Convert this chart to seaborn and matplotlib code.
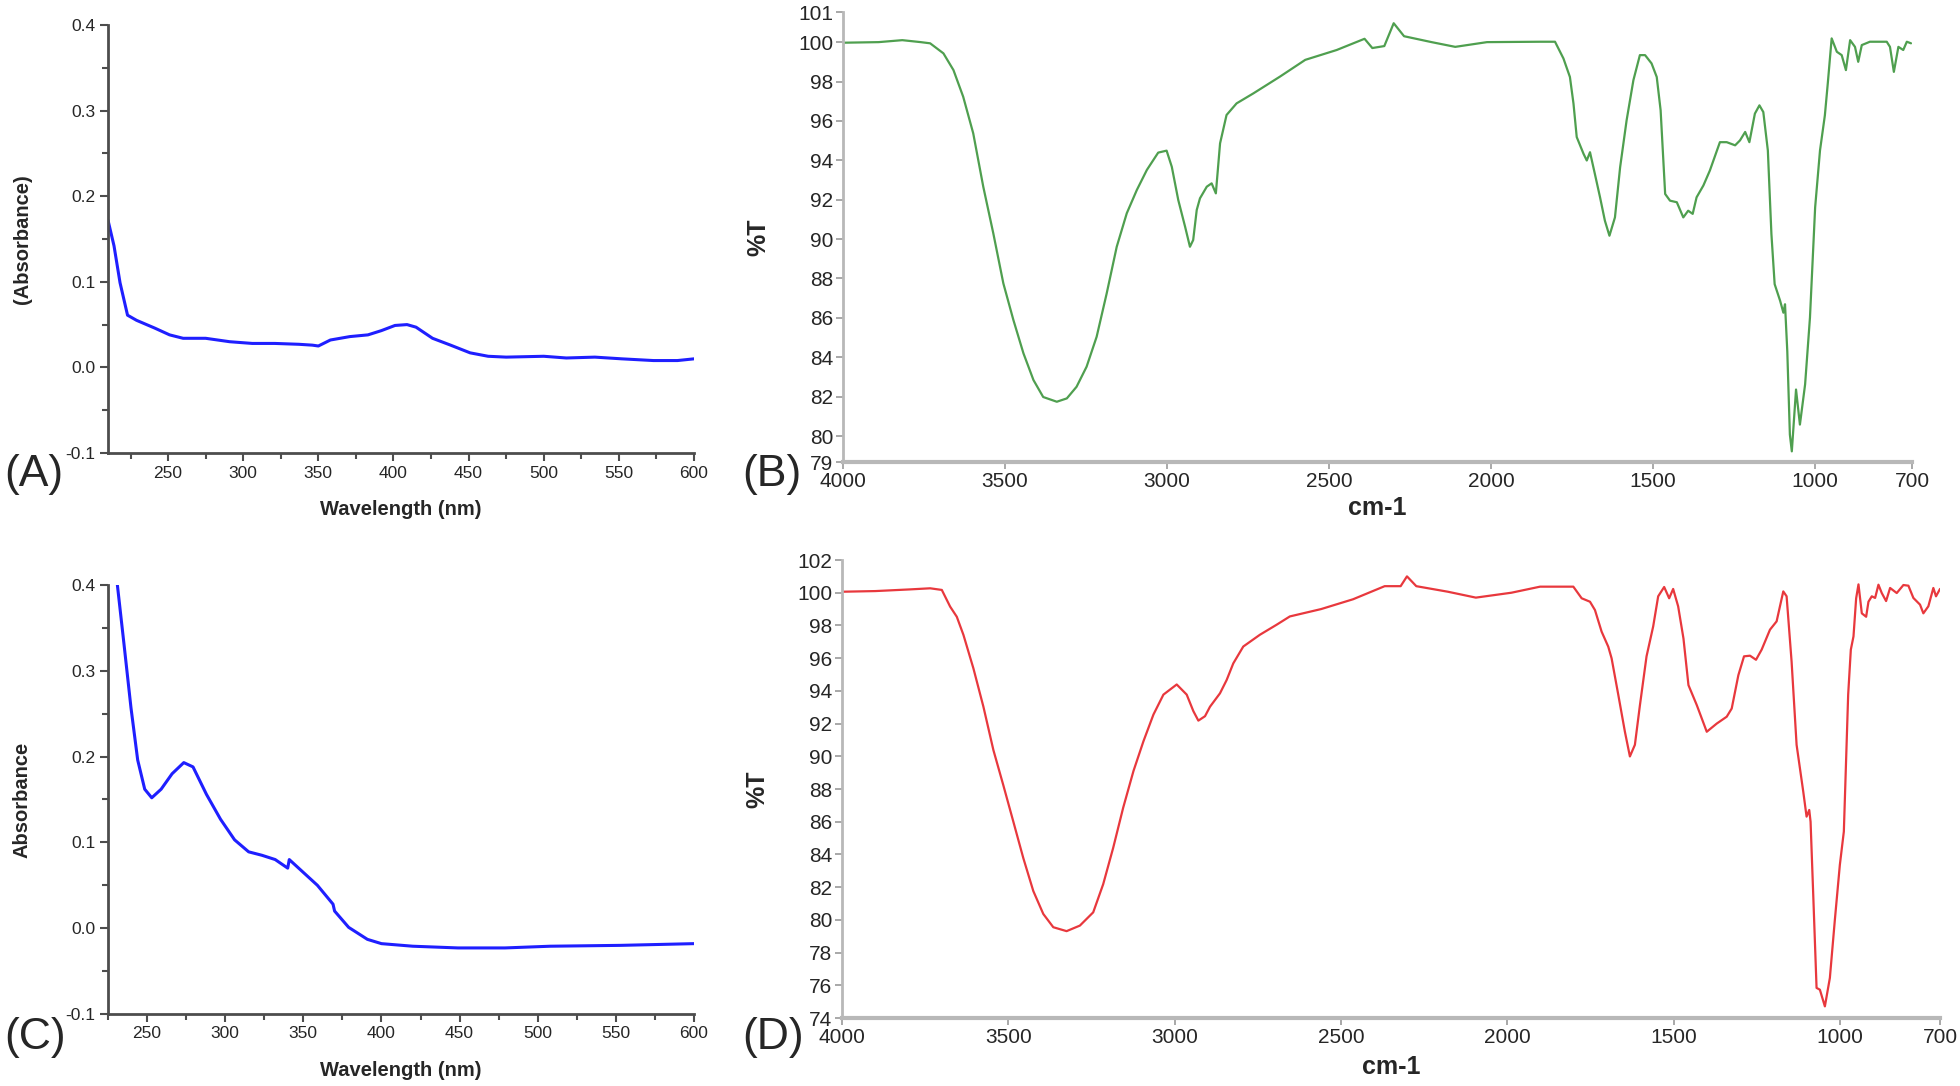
import numpy as np
import matplotlib
matplotlib.use("Agg")
import matplotlib.pyplot as plt
import seaborn as sns

# ---------- DATA ----------
# (A) UV-Vis, wavelength in nm
uv_a_nm = [210, 214, 218, 223, 229, 241, 251, 260, 275, 291, 306, 321, 337, 346, 350,
           358, 371, 383, 392, 401, 409, 415, 426, 438, 451, 463, 475, 500, 515, 534,
           552, 573, 589, 600]
uv_a_abs = [0.172, 0.142, 0.099, 0.061, 0.055, 0.046, 0.038, 0.034, 0.034, 0.030, 0.028,
            0.028, 0.027, 0.026, 0.025, 0.032, 0.036, 0.038, 0.043, 0.049, 0.050, 0.047,
            0.034, 0.026, 0.017, 0.013, 0.012, 0.013, 0.011, 0.012, 0.010, 0.008, 0.008,
            0.010]

# (C) UV-Vis
uv_c_nm = [231, 235.3, 239.7, 244, 248.5, 253, 259, 266, 273.5, 279.4, 288, 297, 306, 315,
           323.5, 332, 340, 341, 347, 359, 369, 370, 379, 391, 400, 420, 449, 479, 508,
           553, 600]
uv_c_abs = [0.400, 0.330, 0.257, 0.196, 0.162, 0.152, 0.162, 0.180, 0.193, 0.188, 0.156,
            0.127, 0.103, 0.089, 0.085, 0.080, 0.070, 0.080, 0.070, 0.050, 0.028, 0.020,
            0.001, -0.013, -0.018, -0.021, -0.023, -0.023, -0.021, -0.020, -0.018]

# (B) FTIR, wavenumber cm-1 and %T
ir_b_wn = [4000, 3890, 3817, 3760, 3731, 3690, 3659, 3629, 3598, 3567, 3536, 3505, 3474,
           3443, 3412, 3382, 3340, 3309, 3279, 3248, 3217, 3186, 3155, 3124, 3093, 3062,
           3027, 3001, 2985, 2965, 2944, 2929, 2919, 2908, 2898, 2877, 2862, 2849, 2836,
           2816, 2785, 2733, 2651, 2573, 2476, 2390, 2366, 2329, 2300, 2268, 2183, 2110,
           2012, 1848, 1802, 1776, 1756, 1745, 1735, 1714, 1704, 1694, 1679, 1663, 1648,
           1634, 1617, 1601, 1581, 1560, 1540, 1524, 1504, 1488, 1476, 1462, 1447, 1426,
           1406, 1391, 1377, 1365, 1344, 1324, 1293, 1272, 1246, 1231, 1215, 1202, 1185,
           1171, 1159, 1145, 1134, 1124, 1107, 1097, 1092, 1085, 1077, 1071, 1058, 1046,
           1030, 1015, 999, 984, 969, 960, 948, 932, 917, 904, 891, 876, 866, 855, 830,
           778, 768, 756, 742, 727, 716, 703]
ir_b_t = [99.97, 100.0, 100.1, 100.0, 99.94, 99.43, 98.58, 97.23, 95.37, 92.66, 90.29,
          87.75, 85.89, 84.2, 82.84, 81.98, 81.74, 81.91, 82.5, 83.52, 85.04, 87.24, 89.61,
          91.31, 92.49, 93.51, 94.39, 94.49, 93.67, 91.98, 90.63, 89.61, 89.95, 91.48,
          92.07, 92.66, 92.83, 92.32, 94.86, 96.3, 96.89, 97.4, 98.25, 99.1, 99.6, 100.17,
          99.7, 99.8, 100.96, 100.3, 100.0, 99.76, 100.0, 100.02, 100.02, 99.17, 98.23,
          96.88, 95.18, 94.33, 93.99, 94.41, 93.31, 92.12, 90.93, 90.17, 91.1, 93.65,
          96.03, 98.07, 99.34, 99.34, 98.92, 98.23, 96.54, 92.29, 91.95, 91.87, 91.1,
          91.44, 91.28, 92.12, 92.72, 93.48, 94.92, 94.92, 94.76, 95.01, 95.44, 94.92,
          96.37, 96.79, 96.45, 94.5, 90.26, 87.71, 86.86, 86.26, 86.69, 84.31, 80.07,
          79.22, 82.36, 80.58, 82.62, 86.01, 91.61, 94.5, 96.28, 97.9, 100.19, 99.51,
          99.34, 98.58, 100.1, 99.76, 99.0, 99.85, 100.02, 100.02, 99.76, 98.49, 99.76,
          99.6, 100.02, 99.94]

# (D) FTIR
ir_d_wn = [4000, 3900, 3798, 3735, 3700, 3675, 3655, 3635, 3605, 3575, 3545, 3515, 3485,
           3455, 3425, 3395, 3365, 3325, 3285, 3245, 3215, 3185, 3155, 3124, 3094, 3064,
           3034, 2994, 2964, 2944, 2929, 2909, 2894, 2864, 2844, 2824, 2794, 2744, 2694,
           2654, 2560, 2464, 2369, 2321, 2302, 2274, 2179, 2095, 1988, 1902, 1802, 1777,
           1752, 1737, 1717, 1697, 1687, 1667, 1647, 1632, 1617, 1602, 1582, 1562, 1547,
           1529, 1514, 1502, 1487, 1471, 1456, 1431, 1401, 1371, 1341, 1326, 1306, 1289,
           1271, 1253, 1236, 1211, 1191, 1181, 1171, 1161, 1146, 1131, 1111, 1101, 1093,
           1089, 1081, 1071, 1061, 1046, 1031, 1016, 1001, 989, 976, 968, 960, 952, 945,
           935, 922, 915, 905, 895, 885, 875, 862, 850, 830, 810, 795, 780, 760, 750,
           735, 720, 712, 700]
ir_d_t = [100.06, 100.1, 100.2, 100.27, 100.17, 99.15, 98.53, 97.42, 95.37, 93.03, 90.38,
          88.22, 86.0, 83.77, 81.76, 80.36, 79.55, 79.31, 79.65, 80.46, 82.18, 84.4, 86.85,
          89.1, 90.92, 92.55, 93.77, 94.39, 93.77, 92.76, 92.18, 92.45, 93.03, 93.85, 94.66,
          95.68, 96.71, 97.43, 98.04, 98.55, 99.0, 99.6, 100.4, 100.4, 101.0, 100.4, 100.06,
          99.7, 100.0, 100.37, 100.37, 99.66, 99.45, 98.94, 97.62, 96.7, 95.99, 93.77,
          91.5, 89.99, 90.7, 93.1, 96.11, 97.94, 99.78, 100.35, 99.66, 100.23, 99.17, 97.2,
          94.35, 93.13, 91.5, 92.0, 92.42, 92.92, 94.96, 96.11, 96.15, 95.9, 96.52, 97.74,
          98.25, 99.17, 100.08, 99.78, 95.78, 90.7, 87.84, 86.31, 86.72, 86.0, 81.54,
          75.84, 75.73, 74.71, 76.45, 80.0, 83.36, 85.4, 93.77, 96.52, 97.33, 99.66,
          100.51, 98.74, 98.53, 99.45, 99.78, 99.68, 100.49, 99.98, 99.49, 100.29, 99.98,
          100.47, 100.43, 99.68, 99.27, 98.74, 99.17, 100.29, 99.78, 100.23]

uv_ticks = [-0.1, 0.0, 0.1, 0.2, 0.3, 0.4]
uv_xticks = [250, 300, 350, 400, 450, 500, 550, 600]
ir_xticks = [4000, 3500, 3000, 2500, 2000, 1500, 1000, 700]
ir_b_yticks = [78.68, 80, 82, 84, 86, 88, 90, 92, 94, 96, 98, 100, 101.53]
ir_b_ylabels = ["79", "80", "82", "84", "86", "88", "90", "92", "94", "96", "98", "100", "101"]
ir_d_yticks = list(range(74, 103, 2))

# ---------- STYLE ----------
sns.set_style("white")
plt.rcParams["font.family"] = ["Liberation Sans", "DejaVu Sans"]

fig = plt.figure(figsize=(19.6, 10.86), dpi=100)

ax_a = fig.add_axes([108 / 1960, 1 - 453 / 1086, 586 / 1960, 428 / 1086])
ax_b = fig.add_axes([843 / 1960, 1 - 462 / 1086, 1069 / 1960, 450 / 1086])
ax_c = fig.add_axes([108 / 1960, 1 - 1014 / 1086, 586 / 1960, 429 / 1086])
ax_d = fig.add_axes([842 / 1960, 1 - 1018 / 1086, 1098 / 1960, 458 / 1086])


def style_uv(ax, xmin, ylabel):
    ax.set_xlim(xmin, 600)
    ax.set_ylim(-0.1, 0.4)
    ax.set_xticks(uv_xticks)
    ax.set_xticks(np.arange(225, 600, 50), minor=True)
    ax.set_yticks(uv_ticks)
    ax.set_yticks(np.arange(-0.05, 0.4, 0.1), minor=True)
    ax.set_yticklabels([f"{v:.1f}" for v in uv_ticks])
    for s in ["top", "right"]:
        ax.spines[s].set_visible(False)
    for s in ["left", "bottom"]:
        ax.spines[s].set_color("#4d4d4d")
        ax.spines[s].set_linewidth(2)
    ax.tick_params(which="both", bottom=True, left=True, direction="out",
                   color="#4d4d4d", width=1.5, labelsize=12.5, pad=3)
    ax.tick_params(which="major", length=6)
    ax.tick_params(which="minor", length=4)
    ax.set_xlabel("Wavelength (nm)", fontsize=14.5, fontweight="bold")
    ax.set_ylabel(ylabel, fontsize=14.5, fontweight="bold")
    ax.xaxis.set_label_coords(0.5, -0.11)
    ax.yaxis.set_label_coords(-0.13, 0.5)


def style_ir(ax, ylim, yticks, ylabels, xlabel_y, ylabel_x):
    ax.set_xlim(4000, 700)
    ax.set_ylim(*ylim)
    ax.set_xticks(ir_xticks)
    ax.set_yticks(yticks)
    ax.set_yticklabels(ylabels)
    for s in ["top", "right"]:
        ax.spines[s].set_visible(False)
    ax.spines["left"].set_color("#b8b8b8")
    ax.spines["left"].set_linewidth(2)
    ax.spines["bottom"].set_color("#b8b8b8")
    ax.spines["bottom"].set_linewidth(3)
    ax.tick_params(which="both", bottom=True, left=True, direction="out",
                   color="#9a9a9a", width=1.2, length=5, labelsize=15, pad=2)
    ax.set_xlabel("cm-1", fontsize=18, fontweight="bold")
    ax.set_ylabel("%T", fontsize=18, fontweight="bold")
    ax.xaxis.set_label_coords(0.5, xlabel_y)
    ax.yaxis.set_label_coords(ylabel_x, 0.5)


sns.lineplot(x=uv_a_nm, y=uv_a_abs, ax=ax_a, color="#1f1fff", linewidth=2.2,
             estimator=None, sort=False)
style_uv(ax_a, 210, "(Absorbance)")

sns.lineplot(x=uv_c_nm, y=uv_c_abs, ax=ax_c, color="#1f1fff", linewidth=2.2,
             estimator=None, sort=False)
style_uv(ax_c, 225, "Absorbance")

sns.lineplot(x=ir_b_wn, y=ir_b_t, ax=ax_b, color="#4f9f4f", linewidth=1.6,
             estimator=None, sort=False)
style_ir(ax_b, (78.68, 101.53), ir_b_yticks, ir_b_ylabels, -0.075, -0.068)

sns.lineplot(x=ir_d_wn, y=ir_d_t, ax=ax_d, color="#e8383d", linewidth=1.6,
             estimator=None, sort=False)
style_ir(ax_d, (74, 102), ir_d_yticks, [str(v) for v in ir_d_yticks], -0.08, -0.066)

# panel letters
for x, y, lab in [(4, 475, "(A)"), (742, 475, "(B)"), (4, 1038, "(C)"), (742, 1038, "(D)")]:
    fig.text(x / 1960, 1 - y / 1086, lab, fontsize=32, va="center", ha="left")

fig.savefig("out.png", dpi=100, facecolor="white")
